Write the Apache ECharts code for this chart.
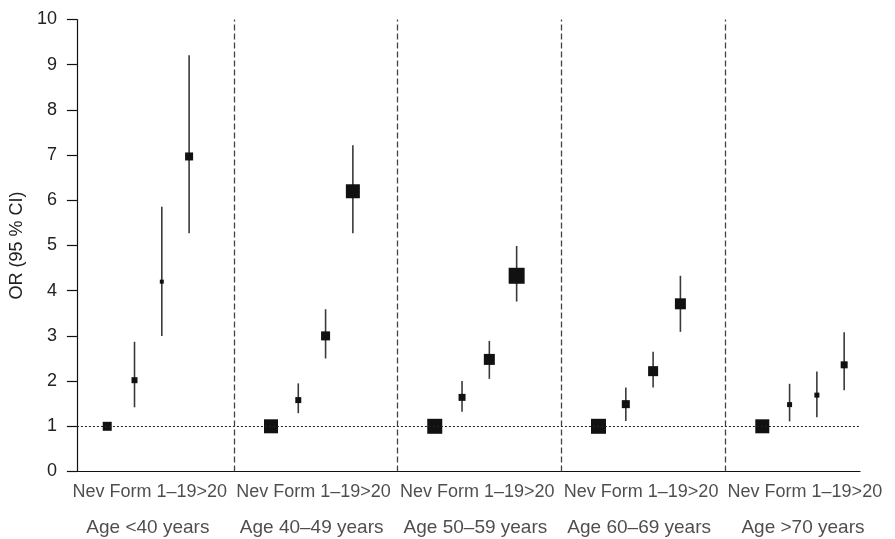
<!DOCTYPE html>
<html>
<head>
<meta charset="utf-8">
<script src="https://cdn.jsdelivr.net/npm/echarts@6/dist/echarts.min.js"></script>
<style>
html,body{margin:0;padding:0;background:#fff;}
#chart{width:895px;height:539px;}
</style>
</head>
<body>
<div id="chart"></div>
<script>
// ---- data ----
var ageGroups = ['Age <40 years', 'Age 40\u201349 years', 'Age 50\u201359 years', 'Age 60\u201369 years', 'Age >70 years'];
var smokingLabel = 'Nev Form 1\u201319>20';
var categories = ['Nev', 'Form', '1\u201319', '>20'];
// odds ratios per age group (order: Nev, Form, 1-19, >20)
var orAge40 = [1.0, 2.02, 4.2, 6.97];
var orAge4049 = [1.0, 1.58, 3.0, 6.2];
var orAge5059 = [1.0, 1.64, 2.48, 4.33];
var orAge6069 = [1.0, 1.49, 2.22, 3.71];
var orAge70 = [1.0, 1.48, 1.69, 2.36];
// lower / upper 95% CI (null = reference)
var loAge40 = [null, 1.42, 3.0, 5.27];
var hiAge40 = [null, 2.87, 5.86, 9.21];
var loAge4049 = [null, 1.29, 2.5, 5.27];
var hiAge4049 = [null, 1.95, 3.59, 7.22];
var loAge5059 = [null, 1.32, 2.05, 3.76];
var hiAge5059 = [null, 2.0, 2.89, 4.99];
var loAge6069 = [null, 1.12, 1.86, 3.09];
var hiAge6069 = [null, 1.86, 2.65, 4.33];
var loAge70 = [null, 1.11, 1.2, 1.8];
var hiAge70 = [null, 1.94, 2.21, 3.08];
// relative weights (marker area indicator)
var wAge40 = [9, 6, 4, 8];
var wAge4049 = [14, 6, 9, 14];
var wAge5059 = [15, 7, 11, 16];
var wAge6069 = [15, 8, 10, 11];
var wAge70 = [14, 5, 5, 7];
var yTicks = [0, 1, 2, 3, 4, 5, 6, 7, 8, 9, 10];

// ---- build ----
var ors = [orAge40, orAge4049, orAge5059, orAge6069, orAge70];
var los = [loAge40, loAge4049, loAge5059, loAge6069, loAge70];
var his = [hiAge40, hiAge4049, hiAge5059, hiAge6069, hiAge70];
var ws = [wAge40, wAge4049, wAge5059, wAge6069, wAge70];

var PANEL = 6, FIRST = 1.36;
var points = [], bars = [], labels1 = [], labels2 = [];
for (var g = 0; g < ageGroups.length; g++) {
  for (var k = 0; k < categories.length; k++) {
    var x = g * PANEL + FIRST + k;
    points.push({value: [x, ors[g][k]], symbolSize: ws[g][k]});
    if (los[g][k] != null) bars.push([x, los[g][k], his[g][k]]);
  }
  labels1.push({value: [g * PANEL + 2.92, 0], name: smokingLabel});
  labels2.push({value: [g * PANEL + 2.85, 0], name: ageGroups[g]});
}
var dividers = [];
for (var g2 = 1; g2 < ageGroups.length; g2++) dividers.push({xAxis: g2 * PANEL});

var FONT = '"Liberation Sans", Arial, Helvetica, sans-serif';
var chart = echarts.init(document.getElementById('chart'), null, {renderer: 'canvas'});
chart.setOption({
  animation: false,
  backgroundColor: '#fff',
  grid: {left: 76, right: 35, top: 19.5, bottom: 67.5, containLabel: false},
  xAxis: {
    type: 'value', min: 0.25, max: 28.94,
    axisLine: {show: true, onZero: false, lineStyle: {color: '#111', width: 1.2}},
    axisTick: {show: false}, axisLabel: {show: false}, splitLine: {show: false}
  },
  yAxis: {
    type: 'value', min: 0, max: 10, interval: 1,
    name: 'OR (95 % CI)', nameLocation: 'middle', nameGap: 48,
    nameTextStyle: {fontFamily: FONT, fontSize: 18, color: '#222'},
    axisLine: {show: true, lineStyle: {color: '#111', width: 1.2}},
    axisTick: {show: true, length: 10, lineStyle: {color: '#111', width: 1.2}},
    axisLabel: {fontFamily: FONT, fontSize: 18, color: '#222', margin: 20,
      formatter: function (v) { return yTicks.indexOf(v) >= 0 ? String(v) : ''; }},
    splitLine: {show: false}
  },
  series: [
    {
      type: 'custom',
      clip: false,
      data: bars,
      renderItem: function (params, api) {
        var p1 = api.coord([api.value(0), api.value(1)]);
        var p2 = api.coord([api.value(0), api.value(2)]);
        return {type: 'line', shape: {x1: p1[0], y1: p1[1], x2: p2[0], y2: p2[1]},
          style: {stroke: '#3a3a3a', lineWidth: 1.6}};
      },
      z: 2
    },
    {
      type: 'scatter',
      symbol: 'rect',
      clip: false,
      data: points,
      itemStyle: {color: '#111', opacity: 1},
      z: 3,
      markLine: {
        silent: true, symbol: 'none', animation: false,
        label: {show: false},
        data: [
          {yAxis: 1, lineStyle: {type: [2, 2], color: '#222', width: 1.2}}
        ].concat(dividers.map(function (d) {
          return {xAxis: d.xAxis, lineStyle: {type: [6, 3], color: '#444', width: 1.3}};
        }))
      }
    },
    {
      type: 'scatter',
      symbol: 'rect', symbolSize: 1, clip: false, silent: true,
      itemStyle: {color: 'rgba(0,0,0,0)'},
      data: labels1,
      label: {
        show: true, position: 'inside', offset: [0, 21],
        fontFamily: FONT, fontSize: 18, color: '#222',
        formatter: function (p) { return p.name; }
      },
      z: 4
    },
    {
      type: 'scatter',
      symbol: 'rect', symbolSize: 1, clip: false, silent: true,
      itemStyle: {color: 'rgba(0,0,0,0)'},
      data: labels2,
      label: {
        show: true, position: 'inside', offset: [0, 56],
        fontFamily: FONT, fontSize: 19, color: '#222',
        formatter: function (p) { return p.name; }
      },
      z: 4
    }
  ]
});
</script>
</body>
</html>
